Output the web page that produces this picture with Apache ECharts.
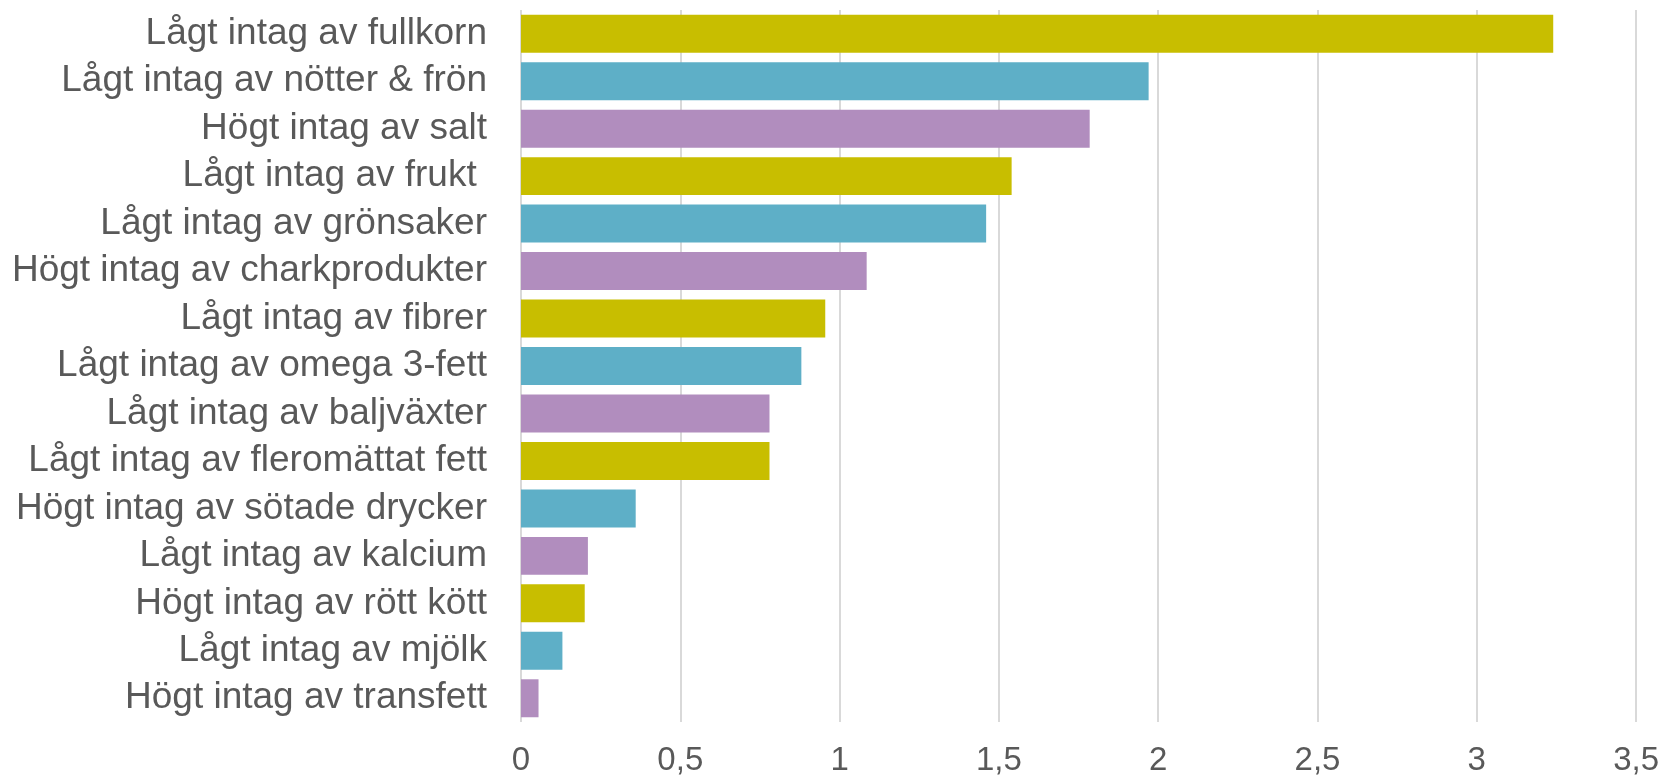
<!DOCTYPE html>
<html>
<head>
    <meta charset="utf-8">
    <title>Kostfaktorer</title>
    <style>
        html, body { margin: 0; padding: 0; background: #fff; }
        #chart { width: 1662px; height: 777px; }
    </style>
</head>
<body>
<div id="chart"></div>
<script src="https://cdn.jsdelivr.net/npm/echarts@6/dist/echarts.min.js"></script>
<script>
    // kategorier uppifrån och ned
    var categories = [
        'Lågt intag av fullkorn',
        'Lågt intag av nötter & frön',
        'Högt intag av salt',
        'Lågt intag av frukt ',
        'Lågt intag av grönsaker',
        'Högt intag av charkprodukter',
        'Lågt intag av fibrer',
        'Lågt intag av omega 3-fett',
        'Lågt intag av baljväxter',
        'Lågt intag av fleromättat fett',
        'Högt intag av sötade drycker',
        'Lågt intag av kalcium',
        'Högt intag av rött kött',
        'Lågt intag av mjölk',
        'Högt intag av transfett'
    ];
    var values = [3.24, 1.97, 1.785, 1.54, 1.46, 1.085, 0.955, 0.88, 0.78, 0.78, 0.36, 0.21, 0.2, 0.13, 0.055];
    var xTicks = [0, 0.5, 1, 1.5, 2, 2.5, 3, 3.5];

    var palette = ['#C8BE00', '#5EAFC7', '#B18DBE'];
    var font = '"Liberation Sans", Arial, sans-serif';

    var seriesData = values.map(function (v, i) {
        return { value: v, itemStyle: { color: palette[i % 3] } };
    });

    var chart = echarts.init(document.getElementById('chart'));
    chart.setOption({
        animation: false,
        grid: { left: 521, right: 25, top: 10, bottom: 54 },
        xAxis: {
            type: 'value',
            min: xTicks[0],
            max: xTicks[xTicks.length - 1],
            interval: 0.5,
            axisLine: { show: false },
            axisTick: { show: false },
            splitLine: { lineStyle: { color: '#d9d9d9', width: 2 } },
            axisLabel: {
                margin: 22,
                fontSize: 33,
                color: '#595959',
                fontFamily: font,
                formatter: function (v) { return String(v).replace('.', ','); }
            }
        },
        yAxis: {
            type: 'category',
            inverse: true,
            data: categories,
            axisLine: { show: false },
            axisTick: { show: false },
            axisLabel: {
                interval: 0,
                margin: 34,
                fontSize: 37,
                color: '#595959',
                fontFamily: font
            }
        },
        series: [{
            type: 'bar',
            data: seriesData,
            barCategoryGap: '20%'
        }]
    });
</script>
</body>
</html>
